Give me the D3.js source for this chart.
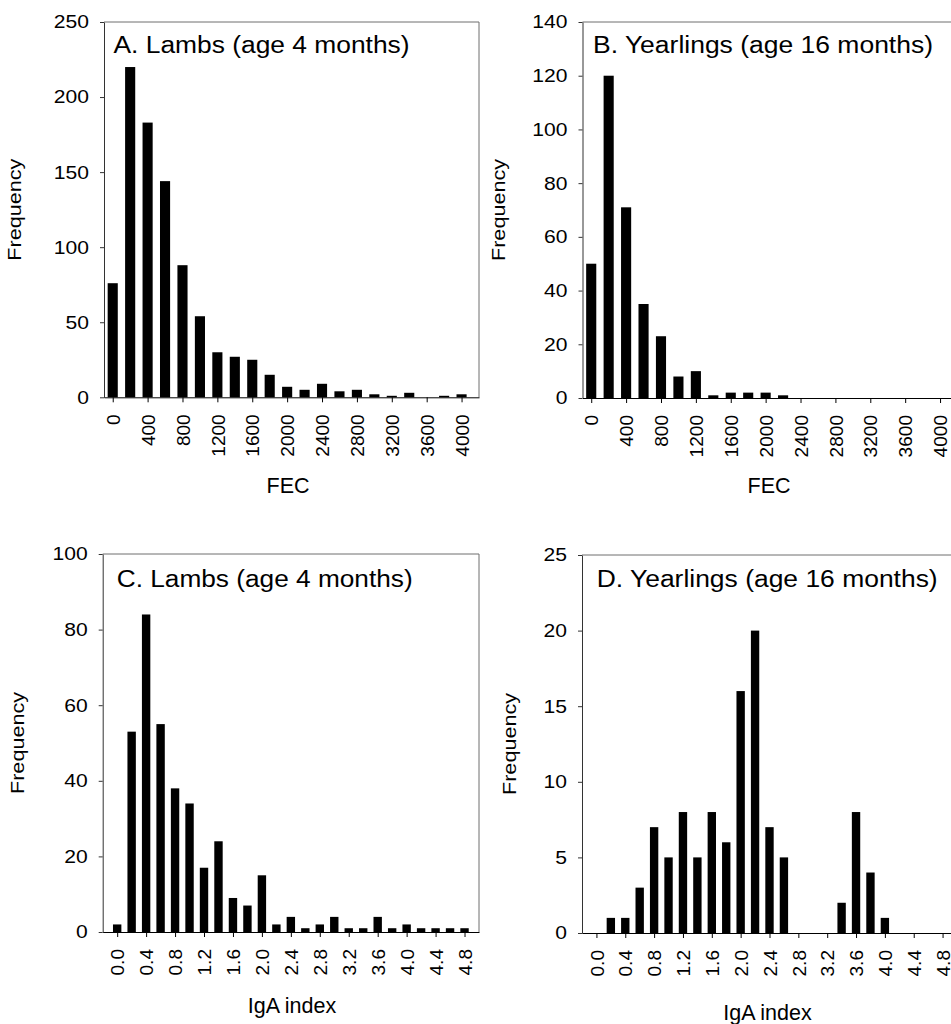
<!DOCTYPE html>
<html><head><meta charset="utf-8">
<script src="https://cdn.jsdelivr.net/npm/d3@7"></script>
<style>
body{margin:0;background:#fff}
svg{display:block}
text{font-family:"Liberation Sans",Arial,Helvetica,sans-serif;fill:#000}
</style>
</head><body>
<script>
// ---- data ----
const fecBins = [0,200,400,600,800,1000,1200,1400,1600,1800,2000,2200,2400,2600,2800,3000,3200,3400,3600,3800,4000];
const lambsFEC = [76,220,183,144,88,54,30,27,25,15,7,5,9,4,5,2,1,3,0,1,2];
const yearlingsFEC = [50,120,71,35,23,8,10,1,2,2,2,1,0,0,0,0,0,0,0,0,0];
const fecTicks = [0,400,800,1200,1600,2000,2400,2800,3200,3600,4000];

const igaBins = [0.0,0.2,0.4,0.6,0.8,1.0,1.2,1.4,1.6,1.8,2.0,2.2,2.4,2.6,2.8,3.0,3.2,3.4,3.6,3.8,4.0,4.2,4.4,4.6,4.8];
const lambsIgA = [2,53,84,55,38,34,17,24,9,7,15,2,4,1,2,4,1,1,4,1,2,1,1,1,1];
const yearlingsIgA = [0,1,1,3,7,5,8,5,8,6,16,20,7,5,0,0,0,2,8,4,1,0,0,0,0];
const igaTicks = [0.0,0.4,0.8,1.2,1.6,2.0,2.4,2.8,3.2,3.6,4.0,4.4,4.8];

const yTicksA = [0,50,100,150,200,250];
const yTicksB = [0,20,40,60,80,100,120,140];
const yTicksC = [0,20,40,60,80,100];
const yTicksD = [0,5,10,15,20,25];

const titles = ["A. Lambs (age 4 months)","B. Yearlings (age 16 months)","C. Lambs (age 4 months)","D. Yearlings (age 16 months)"];
const xLabels = ["FEC","FEC","IgA index","IgA index"];
const yLabel = "Frequency";

// ---- layout ----
const panels = [
  {bins:fecBins, vals:lambsFEC, xt:fecTicks, yt:yTicksA, xd:[-100,4200], fmt:d3.format("d"),
   l:104, r:479, t:22, b:397.3, title:titles[0], tx:113.5, ty:52.5, tlen:296,
   xl:xLabels[0], xlx:288, xly:493, ylx:21},
  {bins:fecBins, vals:yearlingsFEC, xt:fecTicks, yt:yTicksB, xd:[-100,4200], fmt:d3.format("d"),
   l:582.5, r:957.5, t:22, b:398, title:titles[1], tx:593, ty:52.5, tlen:340,
   xl:xLabels[1], xlx:769, xly:493, ylx:505},
  {bins:igaBins, vals:lambsIgA, xt:igaTicks, yt:yTicksC, xd:[-0.2,5.0], fmt:d3.format(".1f"),
   l:102.7, r:479, t:554, b:932, title:titles[2], tx:116.7, ty:587, tlen:296,
   xl:xLabels[2], xlx:292, xly:1013, ylx:24},
  {bins:igaBins, vals:yearlingsIgA, xt:igaTicks, yt:yTicksD, xd:[-0.2,5.0], fmt:d3.format(".1f"),
   l:582, r:957, t:555, b:933, title:titles[3], tx:596.7, ty:587, tlen:341,
   xl:xLabels[3], xlx:767.5, xly:1020, ylx:516}
];

const svg = d3.select("body").append("svg").attr("width",951).attr("height",1024);

function stretch(sel, factor){
  sel.each(function(){
    const w = this.getComputedTextLength();
    this.setAttribute("textLength", w*factor);
    this.setAttribute("lengthAdjust","spacingAndGlyphs");
  });
}
function fitLen(sel, len){
  sel.attr("textLength", len).attr("lengthAdjust","spacingAndGlyphs");
}

panels.forEach(p => {
  const g = svg.append("g");
  const x = d3.scaleLinear().domain(p.xd).range([p.l, p.r]);
  const y = d3.scaleLinear().domain([0, p.yt[p.yt.length-1]]).range([p.b, p.t]);
  const step = p.bins[1]-p.bins[0];
  const bw = (x(step)-x(0))*0.58;

  // frame (top/right)
  g.append("path")
    .attr("d", `M${p.l},${p.t}H${p.r}V${p.b}`)
    .attr("fill","none").attr("stroke","#6e6e6e").attr("stroke-width",1);

  // bars
  g.append("g").selectAll("rect")
    .data(p.bins.map((b,i)=>({b, v:p.vals[i]})).filter(d=>d.v>0))
    .join("rect")
    .attr("x", d=>x(d.b)-bw/2)
    .attr("width", bw)
    .attr("y", d=>y(d.v))
    .attr("height", d=>y(0)-y(d.v))
    .attr("fill","#000");

  // y axis
  const ya = g.append("g").attr("transform",`translate(${p.l},0)`)
    .call(d3.axisLeft(y).tickValues(p.yt).tickSize(4).tickSizeOuter(0).tickPadding(11).tickFormat(d3.format("d")));
  ya.selectAll("path,line").attr("stroke","#333");
  ya.selectAll("text").style("font-size","18.5px").attr("font-family",null);
  stretch(ya.selectAll("text"), 1.14);

  // x axis
  const xa = g.append("g").attr("transform",`translate(0,${p.b})`)
    .call(d3.axisBottom(x).tickValues(p.xt).tickSize(5).tickSizeOuter(0).tickFormat(p.fmt));
  xa.selectAll("path,line").attr("stroke","#000");
  xa.selectAll("text")
    .attr("font-family",null)
    .style("font-size","18.5px")
    .attr("text-anchor","end")
    .attr("x",0).attr("y",0).attr("dy","0.36em")
    .attr("transform","translate(0,17) rotate(-90)");
  stretch(xa.selectAll("text"), 1.03);

  // title
  g.append("text").attr("x",p.tx).attr("y",p.ty)
    .style("font-size","23px").text(p.title).call(fitLen, p.tlen);

  // x label
  g.append("text").attr("x",p.xlx).attr("y",p.xly).attr("text-anchor","middle")
    .style("font-size","21.5px").text(p.xl);

  // y label
  g.append("text")
    .attr("transform",`translate(${p.ylx},${(p.t+p.b)/2}) rotate(-90)`)
    .attr("text-anchor","middle")
    .style("font-size","19px").text(yLabel).call(fitLen, 102);
});
</script>
</body></html>
